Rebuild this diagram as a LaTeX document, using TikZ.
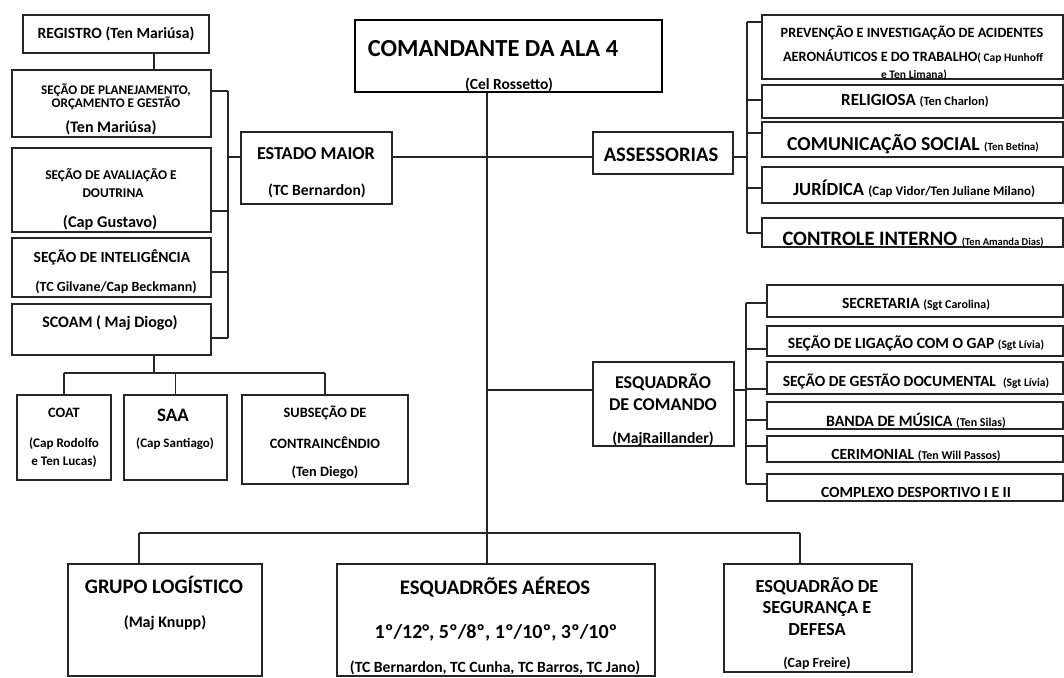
\documentclass[tikz,border=0pt]{standalone}
\usepackage{fontspec}
\setmainfont{Carlito}
\newcommand\myfs[1]{\fontsize{#1}{#1}\selectfont}
\tikzset{
  box/.style={draw=black!85, line width=1.1pt, inner sep=0pt, minimum width=#1},
  box/.default=100pt,
  txt/.style={inner sep=0pt, anchor=base, font=\bfseries, text=black},
  conn/.style={draw=black!85, line width=1.1pt},
}
\begin{document}
\begin{tikzpicture}[x=1pt,y=-1pt]
\useasboundingbox[fill=white] (0,0) rectangle (1064,677);
% ---------- boxes ----------
\node[box=307pt, minimum height=72pt, line width=2.6pt, draw=black] (cmd) at (508.5,56) {};
\node[box=186pt, minimum height=38pt] (reg) at (116,34) {};
\node[box=199pt, minimum height=67pt] (plan) at (111.5,103.5) {};
\node[box=199pt, minimum height=84pt] (aval) at (111.5,190) {};
\node[box=199pt, minimum height=59pt] (intel) at (111.5,267.5) {};
\node[box=199pt, minimum height=51pt] (scoam) at (111.5,329.5) {};
\node[box=94pt, minimum height=85pt] (coat) at (64,437.5) {};
\node[box=103pt, minimum height=85pt] (saa) at (175.5,437.5) {};
\node[box=166pt, minimum height=89pt] (sub) at (325,439.5) {};
\node[box=151pt, minimum height=72pt] (em) at (316.5,168) {};
\node[box=140pt, minimum height=42pt] (as) at (663,153) {};
\node[box=301pt, minimum height=64pt] (prev) at (912.5,47) {};
\node[box=301pt, minimum height=33pt] (rel) at (912.5,101.5) {};
\node[box=301pt, minimum height=35pt] (com) at (912.5,139.5) {};
\node[box=301pt, minimum height=36pt] (jur) at (912.5,185) {};
\node[box=301pt, minimum height=29pt] (ctl) at (912.5,232.5) {};
\node[box=141pt, minimum height=84pt] (ec) at (663.5,404) {};
\node[box=296pt, minimum height=32pt] (sec) at (915,301) {};
\node[box=296pt, minimum height=30pt] (lig) at (915,341) {};
\node[box=296pt, minimum height=32pt] (ges) at (915,378) {};
\node[box=296pt, minimum height=27pt] (ban) at (915,415.5) {};
\node[box=296pt, minimum height=26pt] (cer) at (915,449) {};
\node[box=296pt, minimum height=27pt] (cpx) at (915,487.5) {};
\node[box=194pt, minimum height=112pt] (grp) at (165,620) {};
\node[box=318pt, minimum height=112pt] (aer) at (496,620) {};
\node[box=188pt, minimum height=108pt] (seg) at (818,618) {};
% ---------- helper coordinates ----------
\coordinate (trunk) at (487,0);
\coordinate (hl) at (0,157);
\coordinate (lb) at (228,0);
\coordinate (rb) at (747,0);
\coordinate (rb2) at (746,0);
\coordinate (ecl) at (0,390);
\coordinate (rstem) at (154,0);
\coordinate (sbus) at (0,373);
\coordinate (bbus) at (0,533);
\coordinate (gx) at (139,0);
\coordinate (sx) at (800,0);
% ---------- connectors ----------
\draw[conn] (cmd.south -| trunk) -- (aer.north -| trunk);
\draw[conn] (em.east |- hl) -- (as.west |- hl);
\draw[conn] (reg.south -| rstem) -- (plan.north -| rstem);
% left bracket
\draw[conn] (em.west |- hl) -- (lb |- hl);
\draw[conn] (lb |- 0,91) -- (lb |- 0,338);
\draw[conn] (plan.east |- 0,91) -- (lb |- 0,91);
\draw[conn] (aval.east |- 0,211) -- (lb |- 0,211);
\draw[conn] (intel.east |- 0,272) -- (lb |- 0,272);
\draw[conn] (scoam.east |- 0,338) -- (lb |- 0,338);
% scoam subtree
\draw[conn] (scoam.south -| rstem) -- (rstem |- sbus);
\draw[conn] (coat.north |- sbus) -- (sub.north |- sbus);
\draw[conn] (coat.north |- sbus) -- (coat.north);
\draw[conn] (saa.north |- sbus) -- (saa.north);
\draw[conn] (sub.north |- sbus) -- (sub.north);
% right upper bracket
\draw[conn] (as.east |- hl) -- (rb |- hl);
\draw[conn] (rb |- 0,22) -- (rb |- 0,233);
\draw[conn] (rb |- 0,22) -- (prev.west |- 0,22);
\draw[conn] (rb |- 0,100) -- (rel.west |- 0,100);
\draw[conn] (rb |- 0,133) -- (com.west |- 0,133);
\draw[conn] (rb |- 0,188) -- (jur.west |- 0,188);
\draw[conn] (rb |- 0,233) -- (ctl.west |- 0,233);
% esquadrao de comando
\draw[conn] (trunk |- ecl) -- (ec.west |- ecl);
\draw[conn] (ec.east |- ecl) -- (rb2 |- ecl);
\draw[conn] (rb2 |- 0,303) -- (rb2 |- 0,484);
\draw[conn] (rb2 |- 0,303) -- (sec.west |- 0,303);
\draw[conn] (rb2 |- 0,349) -- (lig.west |- 0,349);
\draw[conn] (rb2 |- 0,389) -- (ges.west |- 0,389);
\draw[conn] (rb2 |- 0,420) -- (ban.west |- 0,420);
\draw[conn] (rb2 |- 0,446) -- (cer.west |- 0,446);
\draw[conn] (rb2 |- 0,484) -- (cpx.west |- 0,484);
% bottom bus
\draw[conn] (gx |- bbus) -- (sx |- bbus);
\draw[conn] (gx |- bbus) -- (grp.north -| gx);
\draw[conn] (sx |- bbus) -- (seg.north -| sx);
% ---------- texts (baseline anchored) ----------
\node[txt, font=\bfseries\myfs{24.5}] (t1) at (493,56.8) {COMANDANTE DA ALA 4};
\node[txt, font=\bfseries\myfs{15.5}] (t2) at (509,89) {(Cel Rossetto)};
\node[txt, font=\bfseries\myfs{15.6}] (t3) at (116,38) {REGISTRO (Ten Mariúsa)};
\node[txt, font=\bfseries\myfs{13.2}] (t4) at (116,94) {SEÇÃO DE PLANEJAMENTO,};
\node[txt, font=\bfseries\myfs{13.2}] (t5) at (116,107) {ORÇAMENTO E GESTÃO};
\node[txt, font=\bfseries\myfs{16}] (t6) at (111,132) {(Ten Mariúsa)};
\node[txt, font=\bfseries\myfs{13.4}] (t7) at (111,179.3) {SEÇÃO DE AVALIAÇÃO E};
\node[txt, font=\bfseries\myfs{13.4}] (t8) at (113,197.3) {DOUTRINA};
\node[txt, font=\bfseries\myfs{16.3}] (t9) at (110,227.2) {(Cap Gustavo)};
\node[txt, font=\bfseries\myfs{15.5}] (t10) at (112,262) {SEÇÃO DE INTELIGÊNCIA};
\node[txt, font=\bfseries\myfs{14}] (t11) at (116,291.5) {(TC Gilvane/Cap Beckmann)};
\node[txt, font=\bfseries\myfs{16}] (t12) at (110,327) {SCOAM ( Maj Diogo)};
\node[txt, font=\bfseries\myfs{14.3}] (t13) at (64,417.6) {COAT};
\node[txt, font=\bfseries\myfs{13.1}] (t14) at (64,447.2) {(Cap Rodolfo};
\node[txt, font=\bfseries\myfs{13.1}] (t15) at (64,465.2) {e Ten Lucas)};
\node[txt, font=\bfseries\myfs{19}] (t16) at (173,421) {SAA};
\node[txt, font=\bfseries\myfs{13}] (t17) at (175,447.2) {(Cap Santiago)};
\node[txt, font=\bfseries\myfs{14.3}] (t18) at (325,417.6) {SUBSEÇÃO DE};
\node[txt, font=\bfseries\myfs{14.3}] (t19) at (325,448.6) {CONTRAINCÊNDIO};
\node[txt, font=\bfseries\myfs{14.3}] (t20) at (325,476.6) {(Ten Diego)};
\node[txt, font=\bfseries\myfs{18.2}] (t21) at (316,159.8) {ESTADO MAIOR};
\node[txt, font=\bfseries\myfs{15.6}] (t22) at (317,195) {(TC Bernardon)};
\node[txt, font=\bfseries\myfs{20.6}] (t23) at (661,161.6) {ASSESSORIAS};
\node[txt, font=\bfseries\myfs{14.2}] (t24) at (912,37.5) {PREVENÇÃO E INVESTIGAÇÃO DE ACIDENTES};
\node[txt, font=\bfseries\myfs{14.2}] (t25) at (913,61.5) {AERONÁUTICOS E DO TRABALHO{\myfs{11.5}( Cap Hunhoff}};
\node[txt, font=\bfseries\myfs{11.5}] (t26) at (914,78.7) {e Ten Limana)};
\node[txt, font=\bfseries\myfs{17}] (t27) at (915,105.4) {RELIGIOSA {\myfs{12.5}(Ten Charlon)}};
\node[txt, font=\bfseries\myfs{19.7}] (t28) at (913,150.3) {COMUNICAÇÃO SOCIAL {\myfs{11}(Ten Betina)}};
\node[txt, font=\bfseries\myfs{18.5}] (t29) at (914,195.9) {JURÍDICA {\myfs{13}(Cap Vidor/Ten Juliane Milano)}};
\node[txt, font=\bfseries\myfs{20.5}] (t30) at (913,245.6) {CONTROLE INTERNO {\myfs{10.5}(Ten Amanda Dias)}};
\node[txt, font=\bfseries\myfs{18}] (t31) at (663,388.8) {ESQUADRÃO};
\node[txt, font=\bfseries\myfs{18}] (t32) at (663,410.8) {DE COMANDO};
\node[txt, font=\bfseries\myfs{15.7}] (t33) at (663,443) {(MajRaillander)};
\node[txt, font=\bfseries\myfs{15.6}] (t34) at (916,308) {SECRETARIA {\myfs{12}(Sgt Carolina)}};
\node[txt, font=\bfseries\myfs{15.6}] (t35) at (916,348) {SEÇÃO DE LIGAÇÃO COM O GAP {\myfs{11.5}(Sgt Lívia)}};
\node[txt, font=\bfseries\myfs{15.5}] (t36) at (916,386) {SEÇÃO DE GESTÃO DOCUMENTAL\ \ {\myfs{11.5}(Sgt Lívia)}};
\node[txt, font=\bfseries\myfs{15.8}] (t37) at (916,426) {BANDA DE MÚSICA {\myfs{12}(Ten Silas)}};
\node[txt, font=\bfseries\myfs{15.5}] (t38) at (916,459) {CERIMONIAL {\myfs{12}(Ten Will Passos)}};
\node[txt, font=\bfseries\myfs{15.5}] (t39) at (916,497) {COMPLEXO DESPORTIVO I E II};
\node[txt, font=\bfseries\myfs{20.6}] (t40) at (164,593.6) {GRUPO LOGÍSTICO};
\node[txt, font=\bfseries\myfs{16}] (t41) at (165,627.1) {(Maj Knupp)};
\node[txt, font=\bfseries\myfs{20.7}] (t42) at (495,594.6) {ESQUADRÕES AÉREOS};
\node[txt, font=\bfseries\myfs{20}] (t43) at (496,638.4) {1º/12°, 5º/8º, 1º/10º, 3º/10º};
\node[txt, font=\bfseries\myfs{15.6}] (t44) at (495,672) {(TC Bernardon, TC Cunha, TC Barros, TC Jano)};
\node[txt, font=\bfseries\myfs{18.4}] (t45) at (817,592.9) {ESQUADRÃO DE};
\node[txt, font=\bfseries\myfs{18.4}] (t46) at (817,613.9) {SEGURANÇA E};
\node[txt, font=\bfseries\myfs{18.4}] (t47) at (817,635.9) {DEFESA};
\node[txt, font=\bfseries\myfs{14}] (t48) at (817,667.5) {(Cap Freire)};
\end{tikzpicture}
\end{document}
